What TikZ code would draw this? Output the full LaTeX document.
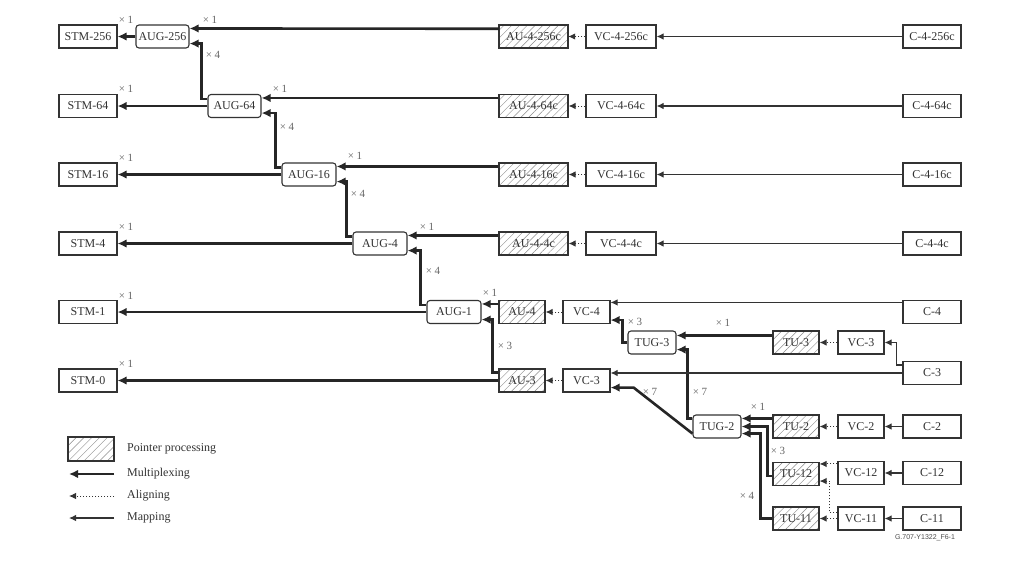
\documentclass[tikz,border=0pt]{standalone}
\usepackage{fontspec}
\setmainfont{Liberation Serif}
\newfontfamily\capfont{Liberation Sans}
\usetikzlibrary{arrows.meta, patterns.meta}

\tikzset{
  box/.style={draw=black!80, line width=1.1pt, minimum height=23pt, inner sep=0pt,
    font=\fontsize{12}{14}\selectfont, text=black!80},
  grp/.style={box, rounded corners=3pt},
  ptr/.style={box, pattern={Lines[angle=45,distance=5.5pt,line width=0.45pt]}, pattern color=black!45},
  mux/.style={line width=2.6pt, black!85, -{Latex[length=9pt,width=8.5pt]}},
  aln/.style={line width=1pt, dotted, black!80, -{Latex[length=7pt,width=6.5pt]}},
  map/.style={line width=1.1pt, black!80, -{Latex[length=7pt,width=6.5pt]}},
  mult/.style={font=\fontsize{11}{13}\selectfont, text=black!60, inner sep=0pt},
  legtext/.style={font=\fontsize{12}{14}\selectfont, text=black!80, inner sep=0pt, anchor=west},
}

\begin{document}
\begin{tikzpicture}[x=1pt, y=-1pt]
  \fill[white] (0,0) rectangle (1024,576);
  \useasboundingbox (0,0) rectangle (1024,576);

  % AUG column
  \foreach \n/\x/\y/\w in {256/162.5/36.5/53, 64/234.5/106/53, 16/309/174.5/54, 4/380/243.5/54, 1/454/312/54}
    \node[grp, minimum width=\w pt] (AUG\n) at (\x,\y) {AUG-\n};

  % STM column
  \foreach \n/\y in {256/36.5, 64/106, 16/174.5, 4/243.5, 1/312, 0/380.5}
    \node[box, minimum width=58pt] (STM\n) at (88,\y) {STM-\n};

  % contiguous VC-4 rows
  \foreach \n/\y in {256/36.5, 64/106, 16/174.5, 4/243.5} {
    \node[ptr, minimum width=69pt] (AUc\n) at (533.5,\y) {AU-4-\n c};
    \node[box, minimum width=70pt] (VCc\n) at (621,\y) {VC-4-\n c};
    \node[box, minimum width=58pt] (Cc\n) at (932,\y) {C-4-\n c};
    \draw[mux] (AUG\n) -- (STM\n);
    \draw[mux] ([yshift=-4pt]AUc\n.north west) -- ([yshift=-4pt]AUG\n.north east);
    \draw[aln] (VCc\n) -- (AUc\n);
    \draw[map] (Cc\n) -- (VCc\n);
  }

  % AUG to AUG, x 4
  \foreach \a/\b in {64/256, 16/64, 4/16, 1/4}
    \draw[mux] ([yshift=-5pt]AUG\a.north west) -- ++(-6,0) |- ([yshift=5pt]AUG\b.south east);

  % AU-4 / AU-3 rows
  \node[ptr, minimum width=46pt] (AU4) at (522,312) {AU-4};
  \node[ptr, minimum width=46pt] (AU3) at (522,380.5) {AU-3};
  \node[box, minimum width=47pt] (VC4) at (586.5,312) {VC-4};
  \node[box, minimum width=47pt] (VC3) at (586.5,380.5) {VC-3};
  \node[box, minimum width=58pt] (C4) at (932,312) {C-4};
  \node[box, minimum width=58pt] (C3) at (932,373) {C-3};
  \node[grp, minimum width=48pt] (TUG3) at (652,342.5) {TUG-3};
  \node[ptr, minimum width=46pt] (TU3) at (796,342.5) {TU-3};
  \node[box, minimum width=46pt] (VC3t) at (861,342.5) {VC-3};

  % TUG-2 rows
  \node[grp, minimum width=48pt] (TUG2) at (717,426.5) {TUG-2};
  \node[ptr, minimum width=46pt] (TU2) at (796,426.5) {TU-2};
  \node[box, minimum width=46pt] (VC2) at (861,426.5) {VC-2};
  \node[box, minimum width=58pt] (C2) at (932,426.5) {C-2};
  \node[ptr, minimum width=46pt] (TU12) at (796,474) {TU-12};
  \node[box, minimum width=46pt] (VC12) at (861,473) {VC-12};
  \node[box, minimum width=58pt] (C12) at (932,473) {C-12};
  \node[ptr, minimum width=46pt] (TU11) at (796,518.5) {TU-11};
  \node[box, minimum width=46pt] (VC11) at (861,518.5) {VC-11};
  \node[box, minimum width=58pt] (C11) at (932,518.5) {C-11};

  % multiplexing
  \draw[mux] (AUG1) -- (STM1);
  \draw[mux] (AU3) -- (STM0);
  \draw[mux] ([yshift=-4pt]AU4.north west) -- ([yshift=-4pt]AU4.north west -| AUG1.east);
  \draw[mux] ([yshift=-4pt]AU3.north west) -- ++(-6,0) |- ([yshift=4.5pt]AUG1.south east);
  \draw[mux] (TUG3.west) -- ++(-5,0) |- ([yshift=4pt]VC4.south east);
  \draw[mux] ([yshift=-5pt]TU3.north west) -- ([yshift=-5pt]TU3.north west -| TUG3.east);
  \draw[mux] ([yshift=-4pt]TUG2.north west) -- ++(-5,0) |- ([yshift=5pt]TUG3.south east);
  \draw[mux, line join=round] ([yshift=5pt]TUG2.south west) -- ([xshift=23pt,yshift=5pt]VC3.south east)
    -- ([yshift=5pt]VC3.south east);
  \draw[mux] ([yshift=-4pt]TU2.north west) -- ([yshift=-4pt]TU2.north west -| TUG2.east);
  \draw[mux] ([yshift=-2pt]TU12.west) -- ++(-5,0) |- (TUG2.east);
  \draw[mux] (TU11.west) -- ++(-12,0) |- ([yshift=5pt]TUG2.south east);

  % aligning
  \draw[aln] (VC4) -- (AU4);
  \draw[aln] (VC3) -- (AU3);
  \draw[aln] (VC3t) -- (TU3);
  \draw[aln] (VC2) -- (TU2);
  \draw[aln] ([yshift=-3pt]VC12.north west) -- ([yshift=-3pt]VC12.north west -| TU12.east);
  \draw[aln] ([yshift=-6pt]VC11.north west) -- ++(-8,0) |- ([yshift=5pt]TU12.south east);
  \draw[aln] (VC11) -- (TU11);

  % mapping
  \draw[map] ([yshift=-2.5pt]C4.north west) -- ([yshift=-2.5pt]C4.north west -| VC4.east);
  \draw[map] (C3.west) -- (C3.west -| VC3.east);
  \draw[map] ([yshift=-4pt]C3.north west) -- ++(-6,0) |- (VC3t.east);
  \draw[map] (C2) -- (VC2);
  \draw[map] (C12) -- (VC12);
  \draw[map] (C11) -- (VC11);

  % multiplication factors
  \foreach \x/\y/\t [count=\i] in {126/20/1, 126/89/1, 126/158/1, 126/227/1, 126/296/1, 126/364/1,
      210/20/1, 280/89/1, 355/156/1, 427/227/1, 490/293/1,
      213/55/4, 287/127/4, 358/194/4, 433/271/4,
      505/346/3, 635/322/3, 723/323/1, 650/392/7, 700/392/7,
      758/407/1, 778/451/3, 747/496/4}
    \node[mult] (fac\i) at (\x,\y) {× \t};

  % legend
  \node[ptr, minimum width=46pt, minimum height=24pt] (keyptr) at (91,449) {};
  \node[legtext] (keyptrt) at (127,449) {Pointer processing};
  \coordinate (kmuxR) at (114,474); \coordinate (kmuxL) at (69,474);
  \coordinate (kalnR) at (114,496); \coordinate (kalnL) at (69,496);
  \coordinate (kmapR) at (114,518); \coordinate (kmapL) at (69,518);
  \draw[mux] (kmuxR) -- (kmuxL);
  \draw[aln] (kalnR) -- (kalnL);
  \draw[map] (kmapR) -- (kmapL);
  \node[legtext] (kmuxt) at (127,474) {Multiplexing};
  \node[legtext] (kalnt) at (127,496) {Aligning};
  \node[legtext] (kmapt) at (127,518) {Mapping};

  \node[font=\capfont\fontsize{7}{8}\selectfont, text=black!70, inner sep=0pt] (figid) at (925,538) {G.707-Y1322\_F6-1};
\end{tikzpicture}
\end{document}
